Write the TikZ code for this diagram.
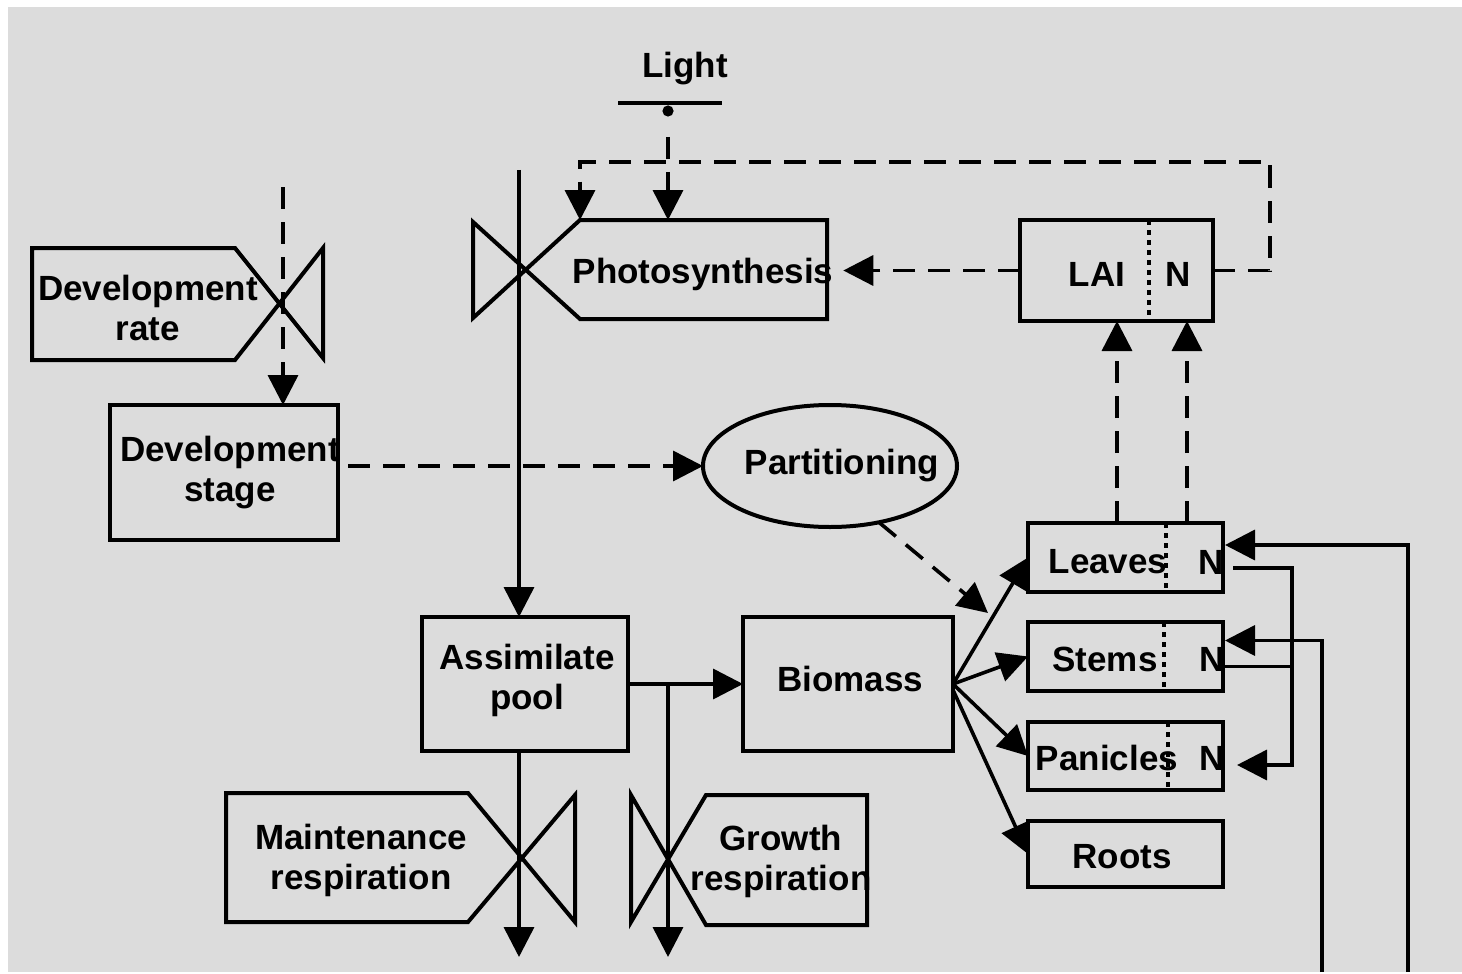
\documentclass[tikz,border=0pt]{standalone}
\usepackage{fontspec}
\setmainfont{Liberation Sans}
\usetikzlibrary{arrows.meta,shapes.geometric,calc}
\definecolor{panel}{RGB}{220,220,220}
\begin{document}
\begin{tikzpicture}[x=0.5pt,y=-0.5pt,
  every node/.style={inner sep=0pt, outer sep=0pt},
  lbl/.style={font=\bfseries\fontsize{17.5}{20}\selectfont, align=center, yshift=-1.5pt},
  box/.style={draw, line width=2pt, rectangle},
  outline/.style={line width=2pt, line join=miter},
  tip/.style={-{Triangle[length=15pt,width=15pt]}},
  flow/.style={line width=1.8pt, tip},
  info/.style={line width=1.8pt, dash pattern=on 11pt off 6.5pt, tip},
  divider/.style={line width=1.8pt, dash pattern=on 2.5pt off 2.5pt},
  plain/.style={line width=1.8pt}
]
\useasboundingbox (0,0) rectangle (1462,974);
\fill[panel] (8,7) rectangle (1462,972);

% ---- light source ----
\node[lbl] (light) at (685,66) {Light};
\draw[line width=2pt] (618,103) -- (722,103);
\coordinate (ldot) at (668,111);
\fill (ldot) circle (2.8pt);

% ---- photosynthesis rate with valve ----
\draw[outline] (827,220) -- (580,220) -- (473,318) -- (473,222) -- (580,319) -- (827,319) -- cycle;
\node[lbl] (photo) at (703,271) {Photosynthesis};
\coordinate (photoNW) at (580,220);
\coordinate (photoN) at (668,220);
\coordinate (photoE) at ([xshift=5pt]photo.east);
\coordinate (lsrc) at (668,137);

% ---- development rate with valve ----
\draw[outline] (32,248) -- (235,248) -- (323,358) -- (323,248) -- (235,360) -- (32,360) -- cycle;
\node[lbl] (drate) at (148,305) {Development\\rate};
\coordinate (dsrc) at (283,187);

% ---- state boxes ----
\node[box, minimum width=114pt, minimum height=67.5pt] (stage) at (224,472.5) {};
\node[lbl] (stageT) at (230,470) {Development\\stage};

\node[box, minimum width=103pt, minimum height=67pt] (pool) at (525,684) {};
\node[lbl] (poolT) at (527,677) {Assimilate\\pool};

\node[box, minimum width=105pt, minimum height=67pt] (biomass) at (848,684) {};
\node[lbl] (bioT) at (850,676) {Biomass};

\node[draw, ellipse, line width=2pt, minimum width=127pt, minimum height=61pt] (part) at (830,466) {};
\node[lbl] (partT) at (842,463) {Partitioning};

% LAI and N
\node[box, minimum width=96.5pt, minimum height=50.5pt] (lai) at (1116.5,270.5) {};
\node[lbl] (laiT) at (1097,271) {LAI};
\node[lbl] (laiN) at (1178,271) {N};
\draw[divider] ([xshift=16.25pt]lai.north) -- ([xshift=16.25pt]lai.south);

% organs
\node[box, minimum width=97.5pt, minimum height=34.5pt] (leaves) at (1125.5,557.5) {};
\node[lbl] (leavesT) at (1108,559) {Leaves};
\node[lbl] (leavesN) at (1211,559) {N};
\draw[divider] ([xshift=20.25pt]leaves.north) -- ([xshift=20.25pt]leaves.south);

\node[box, minimum width=97.5pt, minimum height=34.5pt] (stems) at (1125.5,656.5) {};
\node[lbl] (stemsT) at (1105,656) {Stems};
\node[lbl] (stemsN) at (1212,656) {N};
\draw[divider] ([xshift=19.25pt]stems.north) -- ([xshift=19.25pt]stems.south);

\node[box, minimum width=97.5pt, minimum height=34pt] (panicles) at (1125.5,756) {};
\node[lbl] (paniclesT) at (1107,755) {Panicles};
\node[lbl] (paniclesN) at (1212,755) {N};
\draw[divider] ([xshift=21.25pt]panicles.north) -- ([xshift=21.25pt]panicles.south);

\node[box, minimum width=97.5pt, minimum height=33pt] (roots) at (1125.5,854) {};
\node[lbl] (rootsT) at (1122,854) {Roots};

% ---- maintenance respiration with valve ----
\draw[outline] (226,793) -- (468,793) -- (575,922) -- (575,795) -- (468,922) -- (226,922) -- cycle;
\node[lbl] (mresp) at (361,857) {Maintenance\\respiration};

% ---- growth respiration with valve ----
\draw[outline] (867,795) -- (706,795) -- (631,922) -- (631,795) -- (706,925) -- (867,925) -- cycle;
\node[lbl] (gresp) at (781,858) {Growth\\respiration};

% ---- material flows ----
\coordinate (psrc) at (519,170);
\draw[flow] (psrc) -- (psrc |- pool.north);
\draw[flow] (pool.east) -- (biomass.west);
\coordinate (gsplit) at (668,684);
\coordinate (gsink) at (668,957);
\draw[flow] (gsplit) -- (gsink);
\coordinate (msink) at (519,957);
\draw[flow] (psrc |- pool.south) -- (msink);

\draw[flow] (biomass.east) -- (leaves.west);
\draw[flow] (biomass.east) -- (stems.west);
\draw[flow] (biomass.east) -- (panicles.west);
\draw[flow] ([yshift=-3pt]biomass.east) -- (roots.west);

% nitrogen flows
\coordinate (leavesOut) at ([xshift=5pt,yshift=-5.25pt]leaves.east);
\coordinate (panIn) at ([xshift=7pt,yshift=-4.5pt]panicles.east);
\draw[flow] (leavesOut) -| ([xshift=27.5pt]panIn) -- (panIn);
\draw[plain] ([yshift=-5pt]stems.east) -- ++(69,0);
\coordinate (stemsSrc) at (1322,972);
\draw[flow] (stemsSrc) |- ([xshift=1pt,yshift=8pt]stems.east);
\coordinate (leavesSrc) at (1408,972);
\draw[flow] (leavesSrc) |- ([xshift=1pt,yshift=6.25pt]leaves.east);

% ---- information flows ----
\draw[info] (lsrc) -- (photoN);
\draw[info] (lai.west) -- (lai.west -| photoE);
\draw[info] (lai.east) -| (1270,162) -| (photoNW);
\draw[info] ([xshift=-4.25pt]leaves.north) -- ([xshift=-4.25pt]leaves.north |- lai.south);
\draw[info] ([xshift=30.75pt]leaves.north) -- ([xshift=30.75pt]leaves.north |- lai.south);
\draw[info] (dsrc) -- (dsrc |- stage.north);
\coordinate (devout) at ([xshift=5pt]stage.east);
\draw[info] (devout |- part.west) -- (part.west);
\coordinate (pin) at (988,613);
\draw[info] (part.-49) -- (pin);
\end{tikzpicture}
\end{document}
